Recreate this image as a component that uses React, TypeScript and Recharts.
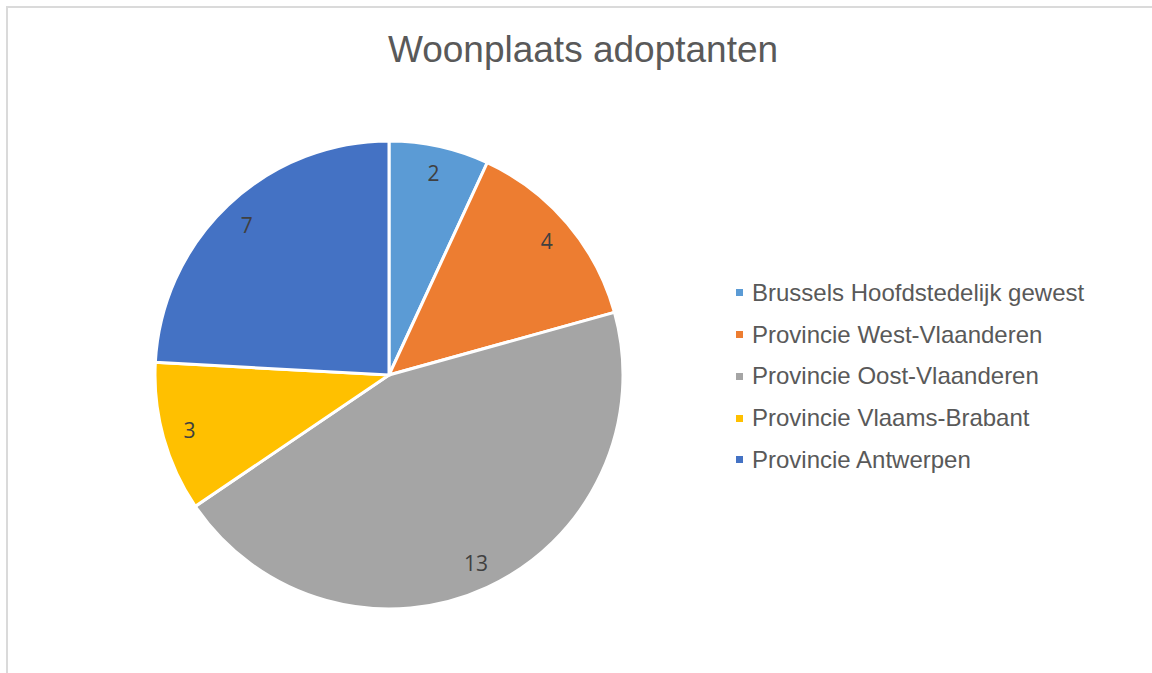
import { Cell, Legend, Pie, PieChart } from "recharts";

const regions = [
  "Brussels Hoofdstedelijk gewest",
  "Provincie West-Vlaanderen",
  "Provincie Oost-Vlaanderen",
  "Provincie Vlaams-Brabant",
  "Provincie Antwerpen",
];
const counts = [2, 4, 13, 3, 7];
const colors = ["#5B9BD5", "#ED7D31", "#A5A5A5", "#FFC000", "#4472C4"];

const data = regions.map((name, i) => ({ name, value: counts[i] }));

const RAD = Math.PI / 180;

function renderLabel(props: any) {
  const { cx, cy, midAngle, outerRadius, value } = props;
  const r = outerRadius - 27;
  const x = cx + r * Math.cos(-midAngle * RAD);
  const y = cy + r * Math.sin(-midAngle * RAD);
  return (
    <text
      x={x}
      y={y}
      fill="#404040"
      fontSize={21}
      fontFamily="'Open Sans', sans-serif"
      textAnchor="middle"
      dominantBaseline="central"
    >
      {value}
    </text>
  );
}

function renderLegend() {
  return (
    <div style={{ fontFamily: "'Liberation Sans', Arial, sans-serif" }}>
      {regions.map((name, i) => (
        <div key={name} style={{ display: "flex", alignItems: "center", height: 41.75 }}>
          <span style={{ width: 7, height: 7, background: colors[i], marginRight: 9 }} />
          <span style={{ fontSize: 24, color: "#595959" }}>{name}</span>
        </div>
      ))}
    </div>
  );
}

export default function App() {
  return (
    <div style={{ position: "absolute", left: 0, top: 0, width: 1152, height: 673, overflow: "hidden", background: "#fff" }}>
      <div
        style={{
          position: "absolute",
          left: 6,
          top: 6,
          width: 1160,
          height: 680,
          border: "2px solid #dadada",
          boxSizing: "border-box",
        }}
      />
      <div
        style={{
          position: "absolute",
          left: 0,
          top: 28,
          width: 1166,
          textAlign: "center",
          fontFamily: "'Liberation Sans', Arial, sans-serif",
          fontSize: 37,
          color: "#595959",
          lineHeight: "44px",
        }}
      >
        Woonplaats adoptanten
      </div>
      <PieChart
        width={1152}
        height={673}
        margin={{ top: 0, right: 0, bottom: 0, left: 0 }}
        style={{ position: "absolute", left: 0, top: 0 }}
      >
        <Pie
          data={data}
          dataKey="value"
          nameKey="name"
          cx={389}
          cy={375}
          outerRadius={234}
          startAngle={90}
          endAngle={-270}
          stroke="#ffffff"
          strokeWidth={3}
          label={renderLabel}
          labelLine={false}
          isAnimationActive={false}
        >
          {data.map((d, i) => (
            <Cell key={d.name} fill={colors[i]} />
          ))}
        </Pie>
        <Legend
          content={renderLegend}
          wrapperStyle={{ left: 736, top: 272, width: 400, right: "auto", bottom: "auto" }}
        />
      </PieChart>
    </div>
  );
}
